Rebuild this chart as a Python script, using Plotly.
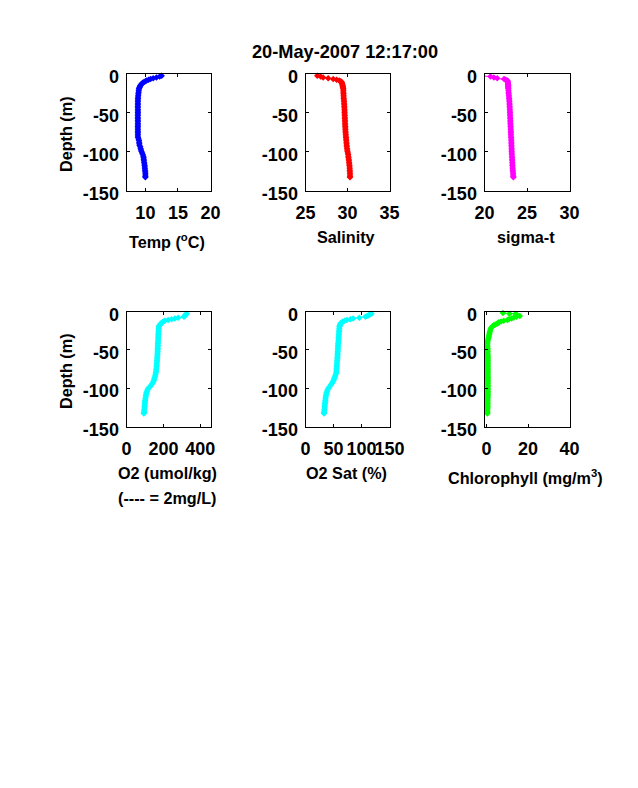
import plotly.graph_objects as go

W, H = 638, 788
FONT = "Liberation Sans"

title = "20-May-2007 12:17:00"

depth = [3, 4, 5, 6, 7, 8, 9, 10, 11, 12, 13, 14, 15, 16, 17, 18, 19, 20,
         22, 24, 26, 28, 30, 32, 34, 36, 38, 40,
         42, 44, 46, 48, 50, 52, 54, 56, 58, 60,
         62, 64, 66, 68, 70, 72, 74, 76, 78, 80,
         82, 84, 86, 88, 90, 92, 94, 96, 98, 100,
         102, 104, 106, 108, 110, 112, 114, 116, 118, 120,
         122, 124, 126, 128, 130, 132, 133]

temp = [12.5, 12.2, 11.7, 11.2, 10.8, 10.5, 10.2, 10.0, 9.8, 9.6, 9.45, 9.35, 9.25, 9.2, 9.15, 9.1, 9.05, 9.0,
        8.98, 8.95, 8.92, 8.9, 8.88, 8.87, 8.86, 8.85, 8.85, 8.85,
        8.84, 8.84, 8.85, 8.85, 8.85, 8.85, 8.84, 8.84, 8.85, 8.85,
        8.85, 8.85, 8.85, 8.84, 8.84, 8.85, 8.85, 8.85, 8.85, 8.85,
        8.87, 8.95, 9.02, 9.05, 9.07, 9.1, 9.2, 9.27, 9.33, 9.4,
        9.5, 9.6, 9.68, 9.72, 9.75, 9.78, 9.82, 9.85, 9.88, 9.9,
        9.92, 9.95, 9.97, 10.0, 10.0, 10.0, 10.0]

sal = [26.4, 26.8, 27.1, 27.7, 28.3, 28.7, 29.0, 29.2, 29.3, 29.33, 29.36, 29.39, 29.41, 29.43, 29.45, 29.46, 29.48, 29.5,
       29.5, 29.51, 29.52, 29.53, 29.54, 29.55, 29.57, 29.59, 29.6, 29.61,
       29.62, 29.63, 29.64, 29.65, 29.65, 29.66, 29.67, 29.68, 29.69, 29.7,
       29.7, 29.71, 29.72, 29.73, 29.74, 29.75, 29.76, 29.77, 29.79, 29.8,
       29.82, 29.84, 29.85, 29.87, 29.89, 29.9, 29.92, 29.95, 29.97, 30.0,
       30.04, 30.08, 30.1, 30.12, 30.15, 30.17, 30.19, 30.21, 30.23, 30.25,
       30.26, 30.27, 30.28, 30.29, 30.3, 30.3, 30.3]

sig = [19.9, 20.7, 21.1, 21.5, 22.3, 22.5, 22.7, 22.72, 22.74, 22.75, 22.76, 22.77, 22.78, 22.78, 22.79, 22.79, 22.8, 22.8,
       22.82, 22.83, 22.85, 22.87, 22.88, 22.9, 22.91, 22.93, 22.94, 22.95,
       22.96, 22.97, 22.98, 22.99, 23.0, 23.0, 23.01, 23.02, 23.03, 23.04,
       23.04, 23.05, 23.06, 23.07, 23.08, 23.09, 23.1, 23.1, 23.11, 23.12,
       23.13, 23.14, 23.15, 23.16, 23.16, 23.17, 23.18, 23.19, 23.19, 23.2,
       23.21, 23.22, 23.23, 23.24, 23.25, 23.26, 23.27, 23.28, 23.29, 23.3,
       23.31, 23.33, 23.34, 23.36, 23.37, 23.39, 23.4]

o2 = [326, 322, 318, 315, 311, 280, 262, 244, 225, 208, 200, 194, 190, 186, 182, 179, 177, 175,
      174.5, 174, 173.5, 173, 172.5, 172, 172, 171.5, 171, 170.5,
      170, 170, 169.5, 169, 169, 168.5, 168, 167.5, 167, 166.5,
      166, 165.5, 165, 164, 163.5, 163, 162, 161, 160, 159,
      157, 155, 153, 150, 148, 145, 140, 134, 127, 118,
      114, 111, 108, 106, 105, 104, 102, 101, 100, 99.5,
      99, 98, 97, 96, 95, 94.5, 94]

sat = [117.6, 115, 113, 110, 107, 96, 85, 80, 74, 70, 67, 65, 63.5, 62.5, 62, 61.5, 61, 60.6,
       60.4, 60.2, 60, 59.8, 59.6, 59.4, 59.2, 59, 58.8, 58.6,
       58.4, 58.2, 58, 57.9, 57.8, 57.6, 57.4, 57.3, 57.1, 57,
       56.8, 56.6, 56.4, 56.2, 56, 55.8, 55.6, 55.4, 55.2, 55,
       54, 53, 52, 51, 50, 48.5, 47, 45, 43, 40.8,
       39.5, 38.5, 37.5, 37, 36.5, 36, 35.7, 35.4, 35.1, 34.8,
       34.5, 34.2, 34, 33.7, 33.4, 33.2, 33]

depth_chl = [2, 3, 3, 5, 6, 7, 8, 9, 10, 11, 12, 13, 14, 15, 16, 17, 18, 19, 20,
             22, 24, 26, 28, 30, 32, 34, 36, 38, 40,
             42, 44, 46, 48, 50, 52, 54, 56, 58, 60,
             62, 64, 66, 68, 70, 72, 74, 76, 78, 80,
             82, 84, 86, 88, 90, 92, 94, 96, 98, 100,
             102, 104, 106, 108, 110, 112, 114, 116, 118, 120,
             122, 124, 126, 128, 130, 132, 133]

chl = [7.9, 11, 14, 14.8, 16, 14.5, 13, 12, 10.8, 10, 8.3, 7, 6, 5.5, 5, 4.2, 3.5, 3, 2.7,
       2, 1.8, 1.6, 1.4, 1.3, 1.1, 1, 0.8, 0.6, 0.4,
       0.4, 0.4, 0.4, 0.5, 0.5, 0.5, 0.5, 0.5, 0.6, 0.6,
       0.6, 0.6, 0.6, 0.6, 0.6, 0.6, 0.6, 0.6, 0.6, 0.6,
       0.6, 0.6, 0.6, 0.6, 0.6, 0.6, 0.6, 0.6, 0.6, 0.6,
       0.6, 0.6, 0.6, 0.6, 0.6, 0.6, 0.5, 0.5, 0.5, 0.5,
       0.5, 0.5, 0.5, 0.4, 0.4, 0.4, 0.4]

# Layout of the six panels, in reference pixels (left, right, top, bottom)
panels = [
    dict(d=depth, v=temp, color="#0000ff", box=(126.5, 210.5, 73.5, 190.5), xr=[7.1, 20], xt=[10, 15, 20], xl="Temp (<sup>o</sup>C)", xly=241, yl=True),
    dict(d=depth, v=sal, color="#ff0000", box=(305.5, 389.5, 73.5, 190.5), xr=[25, 35], xt=[25, 30, 35], xl="Salinity", xly=237, yl=False),
    dict(d=depth, v=sig, color="#ff00ff", box=(484.5, 569.5, 73.5, 190.5), xr=[20, 30], xt=[20, 25, 30], xl="sigma-t", xly=237, yl=False),
    dict(d=depth, v=o2, color="#00ffff", box=(126.5, 210.5, 311.5, 426.5), xr=[0, 455], xt=[0, 200, 400], xl="O2 (umol/kg)", xly=473, yl=True),
    dict(d=depth, v=sat, color="#00ffff", box=(305.5, 389.5, 311.5, 426.5), xr=[0, 150], xt=[0, 50, 100, 150], xl="O2 Sat (%)", xly=473, yl=False),
    dict(d=depth_chl, v=chl, color="#00ff00", box=(484.5, 569.5, 311.5, 426.5), xr=[-1, 40], xt=[0, 20, 40], xl="Chlorophyll (mg/m<sup>3</sup>)", xly=477, yl=False),
]

fig = go.Figure()
annotations = []


def note(text, px, py, size=16.2, angle=0):
    annotations.append(dict(
        text=f"<b>{text}</b>", x=px / W, y=1 - py / H,
        xref="paper", yref="paper", showarrow=False, textangle=angle,
        xanchor="center", yanchor="middle",
        font=dict(family=FONT, size=size, color="black"),
    ))


layout_axes = {}
for i, p in enumerate(panels, start=1):
    l, r, t, b = p["box"]
    suffix = "" if i == 1 else str(i)
    fig.add_trace(go.Scatter(
        x=p["v"], y=[-z for z in p["d"]], mode="lines+markers",
        xaxis=f"x{suffix}", yaxis=f"y{suffix}", showlegend=False,
        line=dict(color=p["color"], width=1),
        marker=dict(color=p["color"], size=5, symbol="diamond"),
        cliponaxis=False,
    ))
    common = dict(
        automargin=False, showgrid=False, zeroline=False, showline=True,
        linecolor="black", linewidth=1, mirror="ticks", ticks="inside",
        ticklen=3, tickcolor="black", tickangle=0,
        tickfont=dict(family=FONT, size=18, color="black", weight="bold"),
    )
    layout_axes[f"xaxis{suffix}"] = dict(
        common, domain=[l / W, r / W], range=p["xr"], tickvals=p["xt"],
        ticktext=[str(v) for v in p["xt"]], anchor=f"y{suffix}",
        ticklabelstandoff=6,
    )
    layout_axes[f"yaxis{suffix}"] = dict(
        common, domain=[1 - b / H, 1 - t / H], range=[-150, 0],
        tickvals=[-150, -100, -50, 0],
        ticktext=["-150", "-100", "-50", "0"], anchor=f"x{suffix}",
        ticklabelstandoff=3, ticklabelshift=3,
    )
    note(p["xl"], (l + r) / 2 - 1.5, p["xly"])
    if p["yl"]:
        note("Depth (m)", 66, (t + b) / 2 + 2, angle=-90)

note(title, 345, 52, size=18.2)
note("(---- = 2mg/L)", 166.5, 498)

fig.update_layout(
    width=W, height=H, margin=dict(l=0, r=0, t=0, b=0),
    paper_bgcolor="white", plot_bgcolor="white",
    annotations=annotations, **layout_axes,
)
fig.write_html("out.html", config={"displayModeBar": False},
               post_script="document.body.style.margin='0';")
